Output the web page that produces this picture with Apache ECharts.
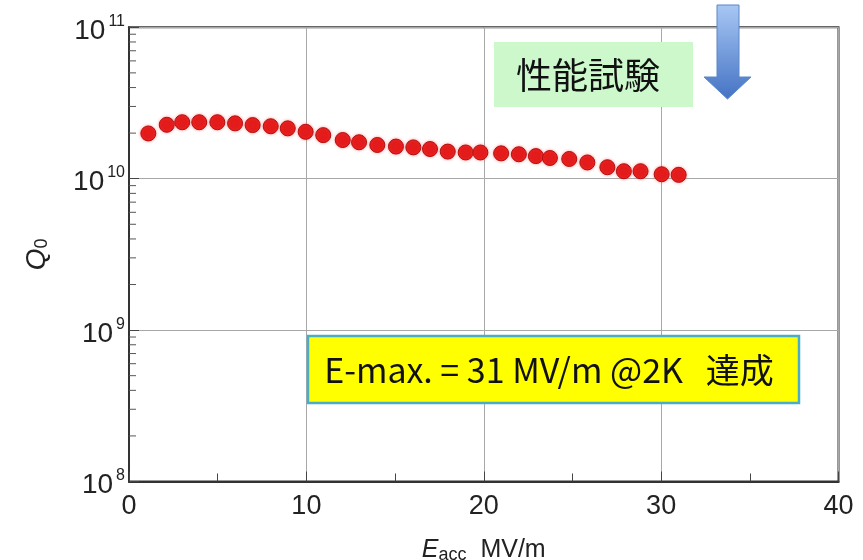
<!DOCTYPE html>
<html><head><meta charset="utf-8">
<script src="https://cdn.jsdelivr.net/npm/echarts@6/dist/echarts.min.js"></script>
<style>html,body{margin:0;padding:0;background:#fff}#c{width:863px;height:560px}</style>
</head><body><div id="c"></div>
<script>
// E_acc (MV/m)
const eacc = [1.09,2.13,3.00,3.96,4.98,5.98,6.97,7.99,8.95,9.96,10.95,12.05,12.97,14.0,15.05,16.03,16.97,17.97,18.98,19.81,20.98,21.98,22.94,23.73,24.82,25.84,26.97,27.9,28.84,30.03,30.99];
// Q0
const q0 = [1.99e10,2.27e10,2.36e10,2.36e10,2.36e10,2.32e10,2.26e10,2.22e10,2.15e10,2.04e10,1.94e10,1.80e10,1.74e10,1.67e10,1.63e10,1.61e10,1.57e10,1.51e10,1.49e10,1.49e10,1.47e10,1.45e10,1.41e10,1.37e10,1.35e10,1.28e10,1.19e10,1.12e10,1.12e10,1.07e10,1.06e10];
const xTickLabels = ['0','10','20','30','40'];
const yTickExponents = [8,9,10,11];
const testLabel = '性能試験';
const resultLabel = 'E-max. = 31 MV/m @2K   達成';

const minorTickValues = [];
for (let e = yTickExponents[0]; e < yTickExponents[yTickExponents.length-1]; e++) {
  for (let k = 2; k <= 9; k++) minorTickValues.push(k * Math.pow(10, e));
}

const chart = echarts.init(document.getElementById('c'), null, {renderer:'canvas'});
const axisFont = 'Liberation Sans, Arial, sans-serif';
chart.setOption({
  animation:false,
  backgroundColor:'#fff',
  grid:{left:129, right:24.5, top:27.3, bottom:78.5, show:true, borderColor:'#333', borderWidth:2,
    containLabel:false, outerBoundsMode:'none'},
  xAxis:{
    type:'value', min:0, max:40, interval:10,
    name:'{e|E}{sub|acc}{n|  MV/m}', nameLocation:'middle', nameGap:55,
    nameTextStyle:{rich:{
      e:{fontFamily:axisFont, fontSize:25, fontStyle:'italic', color:'#222'},
      sub:{fontFamily:axisFont, fontSize:18, color:'#222', padding:[10,0,0,0]},
      n:{fontFamily:axisFont, fontSize:25, color:'#222'}
    }},
    axisLine:{show:true, lineStyle:{color:'#333', width:2}},
    axisTick:{show:true, inside:true, length:10, lineStyle:{color:'#444'}},
    minorTick:{show:true, splitNumber:2, length:8, lineStyle:{color:'#444'}},
    axisLabel:{margin:12, fontFamily:axisFont, fontSize:27, color:'#222',
      formatter:(v)=>xTickLabels[Math.round(v/10)]},
    splitLine:{show:true, lineStyle:{color:'#a8a8a8', width:1}}
  },
  yAxis:{
    type:'log', logBase:10, min:1e8, max:1e11,
    name:'{q|Q}{z|0}', nameLocation:'middle', nameGap:78, nameRotate:90,
    nameTextStyle:{rich:{
      q:{fontFamily:axisFont, fontSize:28, fontStyle:'italic', color:'#222'},
      z:{fontFamily:axisFont, fontSize:18, color:'#222', padding:[10,0,0,0]}
    }},
    axisLine:{show:true, lineStyle:{color:'#333', width:2}},
    axisTick:{show:true, inside:true, length:10, lineStyle:{color:'#444'}},
    axisLabel:{margin:4, color:'#222',
      formatter:(v)=>{const e=Math.round(Math.log10(v)); return '{b|10}{s|'+e+'}';},
      rich:{
        b:{fontFamily:axisFont, fontSize:28, color:'#222', padding:[8,0,0,0]},
        s:{fontFamily:axisFont, fontSize:16, color:'#222', padding:[0,0,12,3]}
      }},
    splitLine:{show:true, lineStyle:{color:'#a8a8a8', width:1}}
  },
  series:[
    {
      type:'custom', silent:true, clip:false, z:3,
      data:minorTickValues.map(v=>[0,v]),
      renderItem:(params, api)=>{
        const p = api.coord([0, api.value(1)]);
        return {type:'line', shape:{x1:p[0], y1:p[1], x2:p[0]+7, y2:p[1]}, style:{stroke:'#555', lineWidth:1}};
      }
    },
    {
      type:'scatter', z:5,
      data:eacc.map((x,i)=>[x,q0[i]]),
      symbol:'circle', symbolSize:15,
      itemStyle:{color:'#e41b1b', borderColor:'#b31010', borderWidth:1, opacity:1,
        shadowBlur:3, shadowColor:'rgba(255,80,80,0.5)'}
    }
  ],
  graphic:[
    {type:'rect', z:100, shape:{x:494, y:42, width:199, height:65}, style:{fill:'#ccf8cc'}},
    {type:'text', z:101, x:588, y:75, style:{text:testLabel, font:'36px "Noto Sans CJK JP"', fill:'#111', textAlign:'center', textVerticalAlign:'middle'}},
    {type:'polygon', z:102, shape:{points:[[717,5],[739,5],[739,77],[751,77],[727.5,99],[704,77],[717,77]]},
      style:{fill:new echarts.graphic.LinearGradient(0,0,0,1,[{offset:0,color:'#a8c8f4'},{offset:1,color:'#4472c4'}]), stroke:'#5a86c8', lineWidth:1}},
    {type:'rect', z:100, shape:{x:308, y:336, width:491, height:67}, style:{fill:'#ffff00', stroke:'#4bacc6', lineWidth:2.5}},
    {type:'text', z:101, x:549, y:370, style:{text:resultLabel, font:'34px "Noto Sans CJK JP"', fill:'#111', textAlign:'center', textVerticalAlign:'middle'}}
  ]
});
</script></body></html>
